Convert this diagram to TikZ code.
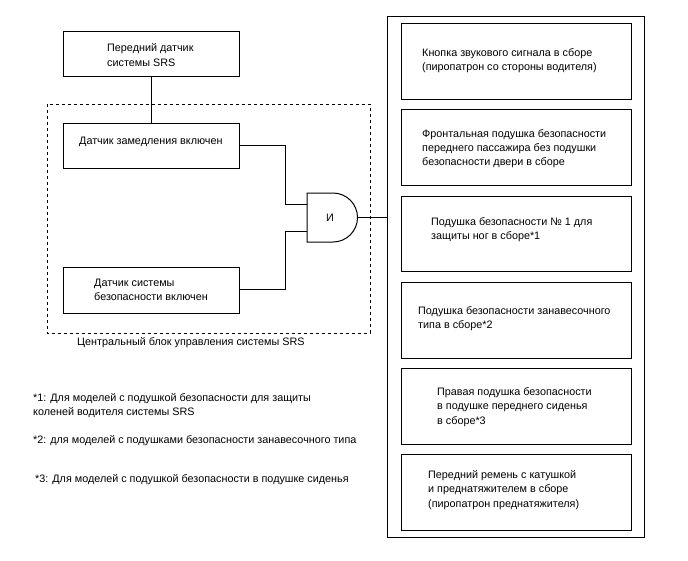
\documentclass[tikz,border=0pt]{standalone}
\usepackage{fontspec}
\setmainfont{Liberation Sans}
\begin{document}
\begin{tikzpicture}[x=1pt,y=-1pt,
  box/.style={draw,line width=1pt},
  txt/.style={anchor=west,align=left,inner sep=0pt,font=\fontsize{10.8}{14.3}\selectfont},
  note/.style={anchor=west,align=left,inner sep=0pt,font=\fontsize{10.8}{13.5}\selectfont},
  wire/.style={line width=1pt}]
\useasboundingbox (0,0) rectangle (688,560);
% left side
\draw[box] (63,31) rectangle (239,76);
\node[txt] (t0) at (107,55) {Передний датчик\\системы SRS};
\coordinate (f0) at (151,76);
\coordinate (f1) at (151,123);
\draw[dashed,line width=0.8pt] (47,104) rectangle (370,333);
\draw[box] (63,123) rectangle (239,168);
\node[txt] (t1) at (79,142) {Датчик замедления включен};
\draw[box] (63,267) rectangle (239,313);
\node[txt] (t2) at (94,290) {Датчик системы\\безопасности включен};
\draw[wire] (f0) -- (f1);
\node[txt] (cap) at (77,343) {Центральный блок управления системы SRS};
% gate
\draw[box] (333,193) -- (307,193) -- (307,242) -- (333,242) arc[start angle=90,end angle=-90,radius=24.5] -- cycle;
\node[txt,anchor=center] (g) at (330,217.5) {И};
\coordinate (a1) at (239,145);
\coordinate (a2) at (239,289);
\draw[wire] (a1) -- (285,145) -- (285,204) -- (307,204);
\draw[wire] (a2) -- (285,289) -- (285,231) -- (307,231);
\draw[wire] (357.5,217.5) -- (387,217.5);
% right
\draw[box] (387,16) rectangle (644,537);
\draw[box] (401,23) rectangle (631,99);
\node[txt] (r1) at (422,60.5) {Кнопка звукового сигнала в сборе\\(пиропатрон со стороны водителя)};
\draw[box] (401,109) rectangle (631,185);
\node[txt] (r2) at (422,148.5) {Фронтальная подушка безопасности\\переднего пассажира без подушки\\безопасности двери в сборе};
\draw[box] (401,196) rectangle (631,271);
\node[txt] (r3) at (431,230) {Подушка безопасности № 1 для\\защиты ног в сборе*1};
\draw[box] (401,282) rectangle (631,358);
\node[txt] (r4) at (418,318.5) {Подушка безопасности занавесочного\\типа в сборе*2};
\draw[box] (401,368) rectangle (631,444);
\node[txt] (r5) at (437,407) {Правая подушка безопасности\\в подушке переднего сиденья\\в сборе*3};
\draw[box] (401,454) rectangle (631,530);
\node[txt] (r6) at (428,490) {Передний ремень с катушкой\\и преднатяжителем в сборе\\(пиропатрон преднатяжителя)};
% footnotes
\node[note] (n1) at (33,405.5) {*1: Для моделей с подушкой безопасности для защиты\\коленей водителя системы SRS};
\node[note] (n2) at (33,441) {*2: для моделей с подушками безопасности занавесочного типа};
\node[note] (n3) at (35,480) {*3: Для моделей с подушкой безопасности в подушке сиденья};
\end{tikzpicture}
\end{document}
